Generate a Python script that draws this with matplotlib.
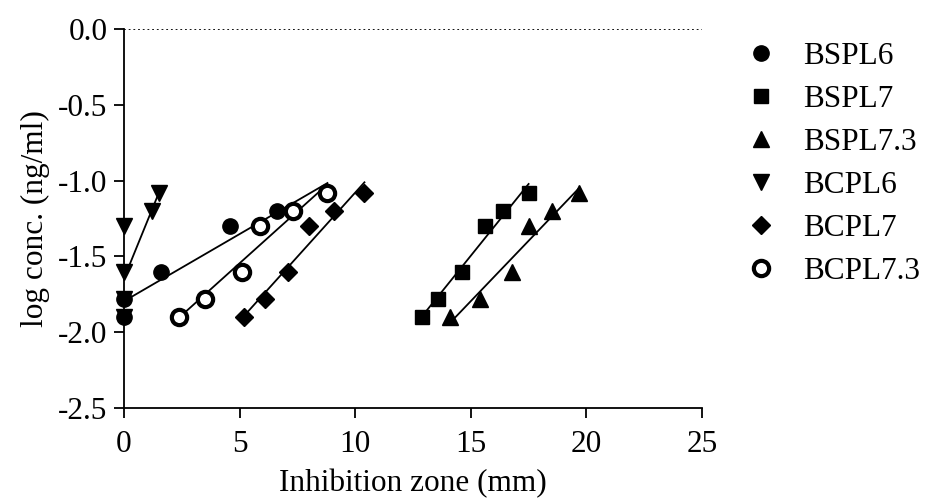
import matplotlib
matplotlib.use('Agg')
import matplotlib.pyplot as plt
import numpy as np

# log conc. (ng/ml) levels used for every strain
log_conc = [-1.9, -1.78, -1.6, -1.3, -1.2, -1.08]

# inhibition zones (mm)
bspl6 = [0.0, 0.0, 1.6, 4.6, 6.6, 8.8]
bspl7 = [12.9, 13.6, 14.6, 15.6, 16.4, 17.5]
bspl73 = [14.1, 15.4, 16.8, 17.5, 18.5, 19.7]
bcpl6 = [0.0, 0.0, 0.0, 0.0, 1.2, 1.5]
bcpl7 = [5.2, 6.1, 7.1, 8.0, 9.1, 10.4]
bcpl73 = [2.4, 3.5, 5.1, 5.9, 7.3, 8.8]

labels = ['BSPL6', 'BSPL7', 'BSPL7.3', 'BCPL6', 'BCPL7', 'BCPL7.3']

plt.rcParams['font.family'] = ['Liberation Serif', 'DejaVu Serif']
plt.rcParams['font.size'] = 22.5

fig = plt.figure(figsize=(9.29, 4.99), dpi=100)
ax = fig.add_axes([124 / 929, 1 - 408 / 499, 578 / 929, 379 / 499])

series = [
    (bspl6, dict(marker='o', ms=11, mfc='black', mec='black')),
    (bspl7, dict(marker='s', ms=10, mfc='black', mec='black')),
    (bspl73, dict(marker='^', ms=11, mfc='black', mec='black')),
    (bcpl6, dict(marker='v', ms=11, mfc='black', mec='black')),
    (bcpl7, dict(marker='D', ms=9, mfc='black', mec='black')),
    (bcpl73, dict(marker='o', ms=11, mfc='white', mec='black', mew=3)),
]

y = np.array(log_conc)
for (xs, style), name in zip(series, labels):
    xs = np.array(xs)
    # linear regression line over the data range
    k, b = np.polyfit(xs, y, 1)
    xl = np.array([xs.min(), xs.max()])
    ax.plot(xl, k * xl + b, color='black', lw=1.3, zorder=2)
    ax.plot(xs, y, linestyle='none', label=name, clip_on=False, zorder=3, **style)

ax.axhline(0, color='black', lw=1.3, ls=(0, (1, 1.6)), zorder=1)

ax.set_xlim(0, 25)
ax.set_ylim(-2.5, 0)
ax.set_xticks([0, 5, 10, 15, 20, 25])
ax.set_yticks([0.0, -0.5, -1.0, -1.5, -2.0, -2.5])
ax.set_yticklabels(['0.0', '-0.5', '-1.0', '-1.5', '-2.0', '-2.5'])
ax.spines['top'].set_visible(False)
ax.spines['right'].set_visible(False)
for s in ['left', 'bottom']:
    ax.spines[s].set_linewidth(1.3)
ax.tick_params(direction='out', length=7, width=1.3, pad=5)
ax.tick_params(axis='x', pad=9)

ax.set_xlabel('Inhibition zone (mm)', labelpad=7)
ax.set_ylabel('log conc. (ng/ml)', labelpad=6)

ax.legend(loc='upper left', bbox_to_anchor=(1.054, 1.0), frameon=False,
          handlelength=1.0, handletextpad=0.85, labelspacing=0.45,
          borderaxespad=0)

fig.savefig('out.png', dpi=100)
